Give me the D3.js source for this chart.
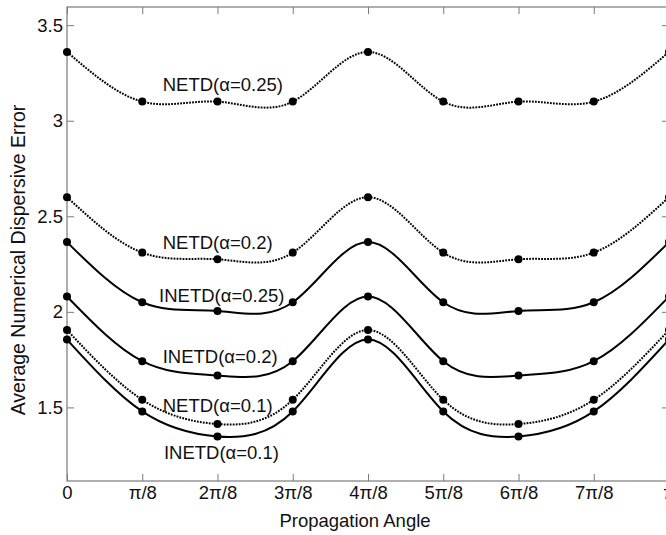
<!DOCTYPE html>
<html>
<head>
<meta charset="utf-8">
<script src="https://cdn.jsdelivr.net/npm/d3@7"></script>
<style>
  body { margin: 0; background: #fff; }
  svg { display: block; font-family: "Liberation Sans", Arial, sans-serif; }
</style>
</head>
<body>
<div id="app"></div>
<script>
const PI = Math.PI;

// propagation angles (rad) and their tick labels
const angles = [0, PI / 8, 2 * PI / 8, 3 * PI / 8, 4 * PI / 8, 5 * PI / 8, 6 * PI / 8, 7 * PI / 8, PI];
const angleLabels = ['0', 'π/8', '2π/8', '3π/8', '4π/8', '5π/8', '6π/8', '7π/8', 'π'];
const errTicks = [1.5, 2, 2.5, 3, 3.5];

// average numerical dispersive error
const netd025 = [3.36, 3.10, 3.10, 3.10, 3.36, 3.10, 3.10, 3.10, 3.36];
const netd02 = [2.60, 2.31, 2.275, 2.31, 2.60, 2.31, 2.275, 2.31, 2.60];
const inetd025 = [2.365, 2.05, 2.005, 2.05, 2.365, 2.05, 2.005, 2.05, 2.365];
const inetd02 = [2.08, 1.742, 1.667, 1.742, 2.08, 1.742, 1.667, 1.742, 2.08];
const netd01 = [1.905, 1.54, 1.413, 1.54, 1.905, 1.54, 1.413, 1.54, 1.905];
const inetd01 = [1.855, 1.479, 1.348, 1.479, 1.855, 1.479, 1.348, 1.479, 1.855];

const seriesNames = ['NETD(α=0.25)', 'NETD(α=0.2)', 'INETD(α=0.25)', 'INETD(α=0.2)', 'NETD(α=0.1)', 'INETD(α=0.1)'];
const seriesValues = [netd025, netd02, inetd025, inetd02, netd01, inetd01];

const svg = d3.select('#app').append('svg')
  .attr('width', 666)
  .attr('height', 535);

const margin = { top: 7, right: -3, bottom: 54, left: 67 };
const width = +svg.attr('width') - margin.left - margin.right;
const height = +svg.attr('height') - margin.top - margin.bottom;

const g = svg.append('g')
  .attr('transform', `translate(${margin.left},${margin.top})`);

const x = d3.scaleLinear().domain([0, PI]).range([0, width]);
const y = d3.scaleLinear().domain([1.115, 3.595]).range([height, 0]);

const axisColor = '#7a7a7a';
const fontSize = 18.5;

function styleAxis(sel) {
  sel.select('.domain').remove();
  sel.selectAll('.tick line').attr('stroke', axisColor).attr('stroke-width', 1);
  sel.selectAll('.tick text')
    .attr('fill', '#111')
    .attr('font-size', fontSize)
    .attr('font-family', '"Liberation Sans", Arial, sans-serif');
}

g.append('g')
  .attr('transform', `translate(0,${height})`)
  .call(d3.axisBottom(x).tickValues(angles)
    .tickFormat((d, i) => angleLabels[i])
    .tickSizeInner(-7).tickSizeOuter(0).tickPadding(5))
  .call(styleAxis);

g.append('g')
  .call(d3.axisTop(x).tickValues(angles).tickFormat('')
    .tickSizeInner(-7).tickSizeOuter(0))
  .call(styleAxis);

g.append('g')
  .call(d3.axisLeft(y).tickValues(errTicks)
    .tickFormat(d3.format('~g'))
    .tickSizeInner(-7).tickSizeOuter(0).tickPadding(4))
  .call(styleAxis);

g.append('g')
  .attr('transform', `translate(${width},0)`)
  .call(d3.axisRight(y).tickValues(errTicks).tickFormat('')
    .tickSizeInner(-7).tickSizeOuter(0))
  .call(styleAxis);

// box
g.append('rect')
  .attr('width', width)
  .attr('height', height)
  .attr('fill', 'none')
  .attr('stroke', axisColor)
  .attr('stroke-width', 1.2);

const line = d3.line()
  .x((d, i) => x(angles[i]))
  .y(d => y(d))
  .curve(d3.curveNatural);

const series = seriesNames.map((name, k) => ({
  name,
  values: seriesValues[k],
  dotted: name.startsWith('NETD')
}));

const serie = g.selectAll('.serie')
  .data(series)
  .enter().append('g')
    .attr('class', 'serie');

serie.append('path')
  .attr('d', d => line(d.values))
  .attr('fill', 'none')
  .attr('stroke', '#000')
  .attr('stroke-width', d => d.dotted ? 2 : 2)
  .attr('stroke-dasharray', d => d.dotted ? '1.8,1.2' : null);

serie.selectAll('circle')
  .data(d => d.values)
  .enter().append('circle')
    .attr('cx', (d, i) => x(angles[i]))
    .attr('cy', d => y(d))
    .attr('r', 4)
    .attr('fill', '#000');

// curve labels, anchored in data units (angle / pi, error)
const labelAt = [[0.159, 3.155], [0.159, 2.329], [0.153, 2.049], [0.159, 1.732], [0.159, 1.476], [0.161, 1.230]];

g.selectAll('.curve-label')
  .data(series)
  .enter().append('text')
    .attr('class', 'curve-label')
    .attr('x', (d, i) => x(labelAt[i][0] * PI))
    .attr('y', (d, i) => y(labelAt[i][1]))
    .attr('font-size', fontSize)
    .attr('fill', '#111')
    .text(d => d.name);

svg.append('text')
  .attr('x', 355)
  .attr('y', 527)
  .attr('text-anchor', 'middle')
  .attr('font-size', fontSize)
  .attr('fill', '#111')
  .text('Propagation Angle');

svg.append('text')
  .attr('transform', `translate(25,${margin.top + height / 2 + 16}) rotate(-90)`)
  .attr('text-anchor', 'middle')
  .attr('font-size', 19.5)
  .attr('fill', '#111')
  .text('Average Numerical Dispersive Error');
</script>
</body>
</html>
